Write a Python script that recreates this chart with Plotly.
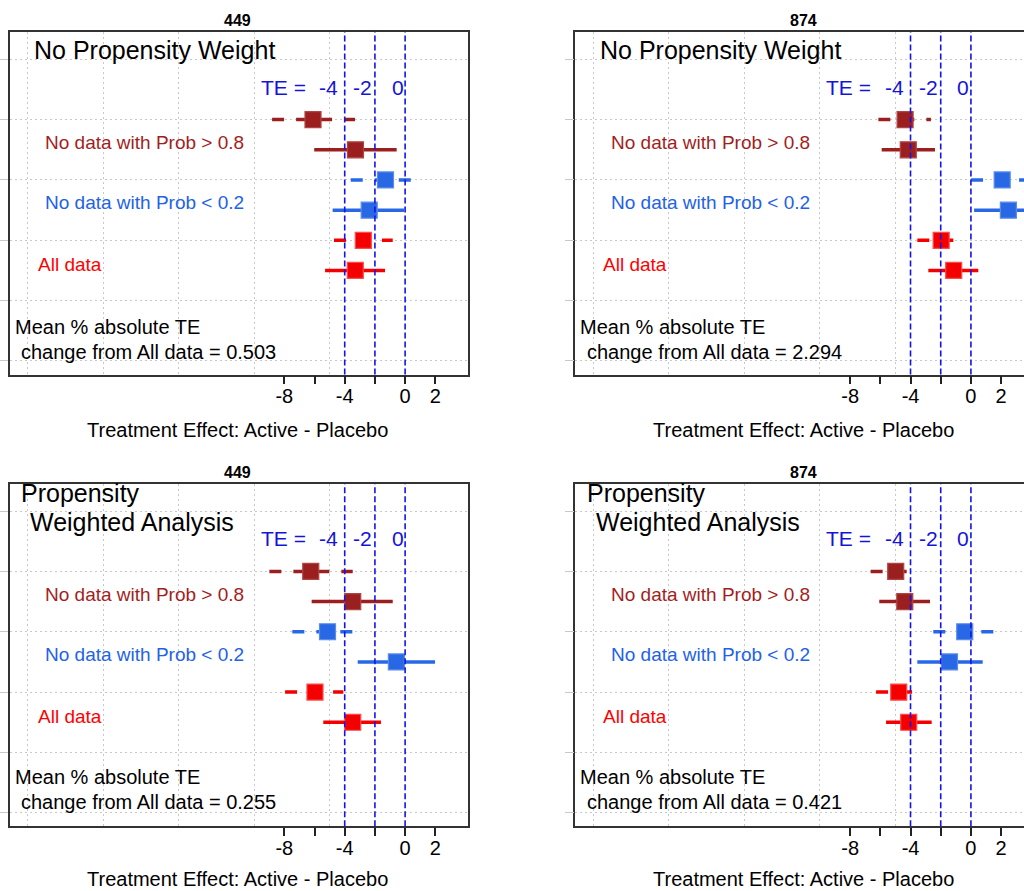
import plotly.graph_objects as go

# ---------------- data ----------------
panel_titles = ["449", "874", "449", "874"]
analysis_titles = [
    ["No Propensity Weight"],
    ["No Propensity Weight"],
    ["Propensity", "Weighted Analysis"],
    ["Propensity", "Weighted Analysis"],
]
mean_change = ["0.503", "2.294", "0.255", "0.421"]

groups = ["No data with Prob > 0.8", "No data with Prob < 0.2", "All data"]
group_colors = ["#9C1F1F", "#2868E4", "#F40000"]
group_border = ["#B04545", "#5A8CEC", "#FF4A4A"]
label_colors = ["#A21E1E", "#2262E6", "#FF0000"]

# row positions (y units)
y_upper = [5, 4, 3]
y_lower = [4.5, 3.5, 2.5]
y_label = [4.62, 3.62, 2.60]
label_x = [-23.9, -23.9, -24.4]

# upper (dashed) rows: estimate, low, high  [panel][group]
est_upper = [[-6.10, -1.30, -2.77], [-4.36, 2.07, -1.97],
             [-6.25, -5.14, -5.97], [-4.98, -0.41, -4.78]]
lo_upper = [[-8.81, -3.60, -4.71], [-6.13, 0.01, -3.55],
            [-8.99, -7.47, -7.95], [-6.64, -2.49, -6.28]]
hi_upper = [[-3.32, 0.65, -0.82], [-2.65, 4.13, -0.99],
            [-3.47, -3.32, -4.09], [-3.50, 1.71, -3.30]]

# lower (solid) rows
est_lower = [[-3.29, -2.38, -3.30], [-4.15, 2.48, -1.14],
             [-3.47, -0.58, -3.47], [-4.38, -1.42, -4.12]]
lo_lower = [[-6.02, -4.80, -5.30], [-5.91, 0.21, -2.82],
            [-6.19, -3.14, -5.42], [-6.07, -3.55, -5.62]]
hi_lower = [[-0.56, -0.07, -1.33], [-2.38, 4.75, 0.49],
            [-0.82, 1.98, -1.60], [-2.71, 0.78, -2.60]]

ref_lines = [-4, -2, 0]
ref_labels = ["-4", "-2", "0"]
ref_label_x = [-4.35, -2.10, -0.04]

x_ticks = [-8, -6, -4, -2, 0, 2]
x_ticktext = ["-8", "", "-4", "", "0", "2"]
x_grid = [-25, -20, -15, -10, -5, 5]
y_grid = [1, 2, 3, 4, 5, 6]

x_title = "Treatment Effect: Active - Placebo"

# ---------------- layout geometry ----------------
W, H = 1024, 891
FONT = "Arial, Liberation Sans, sans-serif"
x_domains = [[9.5 / W, 467.7 / W], [575.3 / W, 1.0], [9.5 / W, 467.7 / W], [575.3 / W, 1.0]]
y_domains = [[1 - 374.5 / H, 1 - 31.7 / H], [1 - 374.5 / H, 1 - 31.7 / H],
             [1 - 826.3 / H, 1 - 483.5 / H], [1 - 826.3 / H, 1 - 483.5 / H]]
x_ranges = [[-26.2, 4.144], [-26.2, 3.515], [-26.2, 4.144], [-26.2, 3.515]]
y_range = [0.776, 6.457]
title_x_px = [237.5, 803.3, 237.5, 803.3]
title_y_px = [20.8, 20.8, 472.2, 472.2]
axtitle_y_px = [429.7, 429.7, 878.5, 878.5]

title_pos = [[(-24.64, 6.154)], [(-24.64, 6.154)],
             [(-25.50, 6.30), (-24.88, 5.82)], [(-25.50, 6.30), (-24.88, 5.82)]]
te_y = [5.524, 5.524, 5.545, 5.545]
mean_y = [[1.563, 1.15], [1.563, 1.15], [1.600, 1.185], [1.600, 1.185]]

fig = go.Figure()
annotations = []
shapes = []

for p in range(4):
    sfx = "" if p == 0 else str(p + 1)
    xa, ya = "x" + sfx, "y" + sfx
    for g in range(3):
        col = group_colors[g]
        # dashed row
        fig.add_trace(go.Scatter(
            x=[lo_upper[p][g], hi_upper[p][g]], y=[y_upper[g], y_upper[g]],
            mode="lines", line=dict(color=col, width=3.5, dash="12px,12px"),
            xaxis=xa, yaxis=ya, showlegend=False, hoverinfo="skip"))
        fig.add_trace(go.Scatter(
            x=[est_upper[p][g]], y=[y_upper[g]], mode="markers",
            marker=dict(symbol="square", size=16, color=col,
                        line=dict(color=group_border[g], width=1.2)),
            xaxis=xa, yaxis=ya, showlegend=False))
        # solid row
        fig.add_trace(go.Scatter(
            x=[lo_lower[p][g], hi_lower[p][g]], y=[y_lower[g], y_lower[g]],
            mode="lines", line=dict(color=col, width=3.5),
            xaxis=xa, yaxis=ya, showlegend=False, hoverinfo="skip"))
        fig.add_trace(go.Scatter(
            x=[est_lower[p][g]], y=[y_lower[g]], mode="markers",
            marker=dict(symbol="square", size=16, color=col,
                        line=dict(color=group_border[g], width=1.2)),
            xaxis=xa, yaxis=ya, showlegend=False))
        annotations.append(dict(
            x=label_x[g], y=y_label[g], xref=xa, yref=ya, text=groups[g],
            showarrow=False, xanchor="left", yanchor="middle", borderpad=0,
            font=dict(family=FONT, size=19, color=label_colors[g])))

    # reference lines
    for r in ref_lines:
        shapes.append(dict(type="line", xref=xa, yref=ya + " domain",
                           x0=r, x1=r, y0=0, y1=1, layer="above",
                           line=dict(color="#1414E6", width=1.6, dash="6px,3px")))
    # TE label
    annotations.append(dict(x=-9.64, y=te_y[p], xref=xa, yref=ya, text="TE =",
                            showarrow=False, xanchor="left", yanchor="middle", borderpad=0,
                            font=dict(family=FONT, size=21, color="#1414D8")))
    for lx, lt in zip(ref_label_x, ref_labels):
        annotations.append(dict(x=lx, y=te_y[p], xref=xa, yref=ya, text=lt,
                                showarrow=False, xanchor="right", yanchor="middle", borderpad=0,
                                font=dict(family=FONT, size=21, color="#1414D8")))
    # analysis title
    for (tx, ty), tt in zip(title_pos[p], analysis_titles[p]):
        annotations.append(dict(x=tx, y=ty, xref=xa, yref=ya, text=tt,
                                showarrow=False, xanchor="left", yanchor="middle", borderpad=0,
                                font=dict(family=FONT, size=25, color="black")))
    # mean text
    annotations.append(dict(x=-25.93, y=mean_y[p][0], xref=xa, yref=ya,
                            text="Mean % absolute TE", showarrow=False, xanchor="left",
                            yanchor="middle", borderpad=0,
                            font=dict(family=FONT, size=20, color="black")))
    annotations.append(dict(x=-25.50, y=mean_y[p][1], xref=xa, yref=ya,
                            text="change from All data = " + mean_change[p], showarrow=False,
                            xanchor="left", yanchor="middle", borderpad=0,
                            font=dict(family=FONT, size=20, color="black")))
    # panel title and axis title
    annotations.append(dict(x=title_x_px[p] / W, y=1 - title_y_px[p] / H, xref="paper", yref="paper",
                            text="<b>" + panel_titles[p] + "</b>", showarrow=False,
                            xanchor="center", yanchor="middle",
                            font=dict(family=FONT, size=16, color="black")))
    annotations.append(dict(x=title_x_px[p] / W, y=1 - axtitle_y_px[p] / H, xref="paper", yref="paper",
                            text=x_title, showarrow=False, xanchor="center", yanchor="middle",
                            font=dict(family=FONT, size=20, color="black")))

    xkey = "xaxis" + sfx
    ykey = "yaxis" + sfx
    fig.update_layout(**{
        xkey: dict(domain=x_domains[p], range=x_ranges[p], anchor=ya,
                   tickmode="array", tickvals=x_ticks, ticktext=x_ticktext,
                   ticks="outside", ticklen=8, tickwidth=1.5, tickcolor="#222",
                   ticklabelstandoff=-5,
                   tickfont=dict(family=FONT, size=20, color="black"),
                   showgrid=False, zeroline=False,
                   showline=True, linecolor="#333", linewidth=1.6, mirror=True,
                   minor=dict(tickmode="array", tickvals=x_grid, showgrid=True,
                              gridcolor="#C8C8C8", griddash="2px,3px", gridwidth=1.3,
                              ticks=""),
                   fixedrange=True),
        ykey: dict(domain=y_domains[p], range=y_range, anchor=xa,
                   tickmode="array", tickvals=y_grid, showticklabels=False,
                   ticks="outside", ticklen=9, tickwidth=1, tickcolor="#C8C8C8",
                   showgrid=True, gridcolor="#C8C8C8", griddash="2px,3px", gridwidth=1.3,
                   zeroline=False, showline=True, linecolor="#333", linewidth=1.6,
                   mirror=(p % 2 == 0), fixedrange=True),
    })

fig.update_layout(width=W, height=H, margin=dict(l=0, r=0, t=0, b=0),
                  plot_bgcolor="white", paper_bgcolor="white",
                  annotations=annotations, shapes=shapes, showlegend=False)

fig.write_html("out.html")
